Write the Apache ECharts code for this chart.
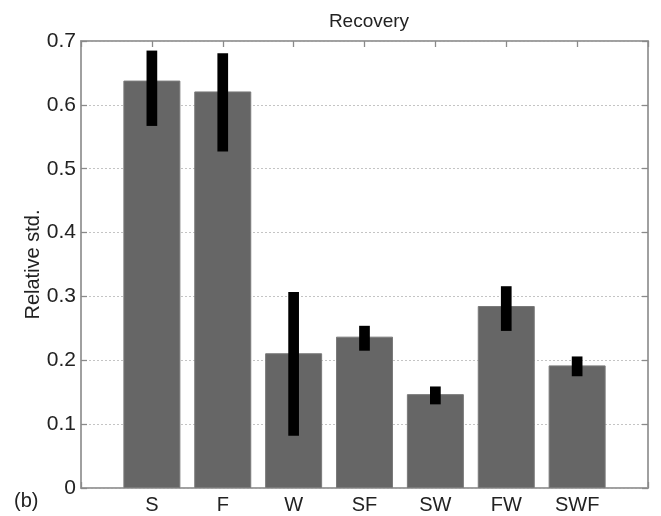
<!DOCTYPE html>
<html>
<head>
<meta charset="utf-8">
<script src="https://cdn.jsdelivr.net/npm/echarts@6/dist/echarts.min.js"></script>
<style>html,body{margin:0;padding:0;background:#fff;}#c{width:661px;height:516px;}</style>
</head>
<body>
<div id="c"></div>
<script>
const categories = ['S', 'F', 'W', 'SF', 'SW', 'FW', 'SWF'];
const means = [0.638, 0.621, 0.211, 0.237, 0.147, 0.285, 0.192];
const lows  = [0.567, 0.527, 0.082, 0.215, 0.131, 0.246, 0.175];
const highs = [0.685, 0.681, 0.307, 0.254, 0.159, 0.316, 0.206];
const yTicks = [0, 0.1, 0.2, 0.3, 0.4, 0.5, 0.6, 0.7];

const FONT = '"Liberation Sans", Arial, Helvetica, sans-serif';
const AX = '#9a9a9a';

const chart = echarts.init(document.getElementById('c'), null, {renderer: 'canvas'});
const barData = means.map((v, i) => [i + 1, v]);
const errData = lows.map((v, i) => [i + 1, v, highs[i]]);

function axisCommon() {
  return {
    axisLine: {show: true, onZero: false, lineStyle: {color: AX, width: 1.5}},
    axisTick: {show: true, inside: true, length: 6, lineStyle: {color: '#8a8a8a', width: 1.3}}
  };
}

chart.setOption({
  animation: false,
  backgroundColor: '#fff',
  title: {
    text: 'Recovery', left: 364, top: 7, textAlign: 'center',
    textStyle: {fontFamily: FONT, fontSize: 19, fontWeight: 'normal', color: '#222'}
  },
  graphic: [{
    type: 'text', left: 14, top: 491,
    style: {text: '(b)', font: '20px ' + FONT, fill: '#222'}
  }],
  grid: {left: 81, right: 13, top: 41, bottom: 28, containLabel: false,
         show: true, borderColor: AX, borderWidth: 1.5, backgroundColor: 'transparent'},
  xAxis: [Object.assign({
    type: 'value', min: 0, max: 8, interval: 1, position: 'bottom',
    splitLine: {show: false},
    axisLabel: {
      margin: 7, fontFamily: FONT, fontSize: 20, color: '#222',
      formatter: v => (v >= 1 && v <= categories.length) ? categories[v - 1] : ''
    }
  }, axisCommon()), Object.assign({
    type: 'value', min: 0, max: 8, interval: 1, position: 'top',
    splitLine: {show: false}, axisLabel: {show: false}
  }, axisCommon())],
  yAxis: [Object.assign({
    type: 'value', min: 0, max: 0.7, interval: 0.1, position: 'left',
    name: 'Relative std.', nameLocation: 'middle', nameGap: 38, nameRotate: 90,
    nameMoveOverlap: false,
    nameTextStyle: {fontFamily: FONT, fontSize: 20, color: '#222'},
    splitLine: {show: true, lineStyle: {color: '#c4c4c4', type: [2, 2], width: 1}},
    axisLabel: {
      margin: 5, fontFamily: FONT, fontSize: 21, color: '#222',
      formatter: v => { const t = yTicks.find(x => Math.abs(x - v) < 1e-9); return t === 0 ? '0' : String(+(t !== undefined ? t : v).toFixed(1)); }
    }
  }, axisCommon()), Object.assign({
    type: 'value', min: 0, max: 0.7, interval: 0.1, position: 'right',
    splitLine: {show: false}, axisLabel: {show: false}
  }, axisCommon())],
  series: [{
    type: 'bar', xAxisIndex: 0, yAxisIndex: 0,
    data: barData, barWidth: 57,
    itemStyle: {color: '#666666', borderColor: '#7a7a7a', borderWidth: 1},
    z: 3
  }, {
    type: 'custom', xAxisIndex: 0, yAxisIndex: 0,
    data: errData,
    renderItem: function (params, api) {
      const top = api.coord([api.value(0), api.value(2)]);
      const bot = api.coord([api.value(0), api.value(1)]);
      const w = 10.7;
      return {
        type: 'rect',
        shape: {x: top[0] - w / 2, y: top[1], width: w, height: bot[1] - top[1]},
        style: {fill: '#000'}
      };
    },
    z: 4
  }, {
    type: 'custom', xAxisIndex: 1, yAxisIndex: 1,
    data: barData, silent: true,
    renderItem: function () { return {type: 'group', children: []}; }
  }]
});
</script>
</body>
</html>
